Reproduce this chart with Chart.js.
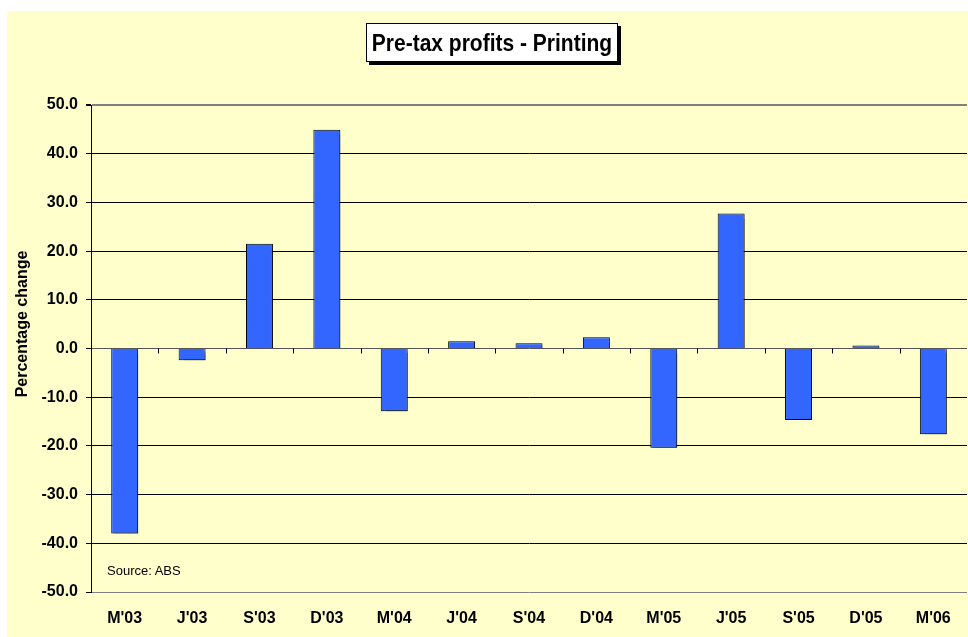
<!DOCTYPE html>
<html lang="en">
<head>
  <meta charset="UTF-8">
  <script src="https://cdn.jsdelivr.net/npm/chart.js"></script>
  <title>Pre-tax profits - Printing</title>
  <style>
    body { margin: 0; background: #fff; font-family: "Liberation Sans", Arial, sans-serif; }
    #wrap { position: absolute; left: 7px; top: 11px; width: 961px; height: 626px; background: #FFFFCC; }
    #title { position: absolute; left: 366px; top: 23px; width: 250px; height: 37px; background: #fff;
      border: 1px solid #000; box-shadow: 3px 3px 0 #000; text-align: center; line-height: 37px;
      font-weight: bold; font-size: 21px; color: #000; }
    #title span { display: inline-block; transform: scaleY(1.15); }
    #source { position: absolute; left: 107px; top: 563px; font-size: 13px; line-height: 16px; color: #000; }
  </style>
</head>
<body>
  <div id="wrap"><canvas id="chart" width="961" height="626"></canvas></div>
  <div id="title"><span>Pre-tax profits - Printing</span></div>
  <div id="source">Source: ABS</div>
  <script>
    // quarters
    const quarters = ["M'03", "J'03", "S'03", "D'03", "M'04", "J'04", "S'04", "D'04", "M'05", "J'05", "S'05", "D'05", "M'06"];
    // percentage change in pre-tax profits
    const profitChange = [-38.0, -2.4, 21.5, 44.9, -12.9, 1.5, 1.1, 2.3, -20.4, 27.7, -14.7, 0.6, -17.6];
    const yMin = -50, yMax = 50, yStep = 10;
    const yTitle = 'Percentage change';

    const font = '"Liberation Sans", Arial, sans-serif';

    // grey drop shadow under the bars
    const barShadow = {
      id: 'barShadow',
      beforeDatasetsDraw(chart) {
        const ctx = chart.ctx;
        ctx.save();
        ctx.shadowColor = 'rgba(0,0,0,0.4)';
        ctx.shadowOffsetX = 2;
        ctx.shadowOffsetY = 2;
        ctx.shadowBlur = 1;
      },
      afterDatasetsDraw(chart) {
        chart.ctx.restore();
      }
    };

    // little tick marks along the zero line + rotated axis title
    const extras = {
      id: 'extras',
      afterDraw(chart) {
        const ctx = chart.ctx;
        const x = chart.scales.x, y = chart.scales.y;
        const y0 = y.getPixelForValue(0);
        ctx.save();
        ctx.strokeStyle = '#000';
        ctx.lineWidth = 1;
        for (let i = 0; i < quarters.length - 1; i++) {
          const px = Math.round((x.getPixelForValue(i) + x.getPixelForValue(i + 1)) / 2) + 0.5;
          ctx.beginPath();
          ctx.moveTo(px, y0);
          ctx.lineTo(px, y0 + 5);
          ctx.stroke();
        }
        ctx.translate(16, 313);
        ctx.rotate(-Math.PI / 2);
        ctx.fillStyle = '#000';
        ctx.font = 'bold 16px ' + font;
        ctx.textAlign = 'center';
        ctx.textBaseline = 'middle';
        ctx.fillText(yTitle, 0, 0);
        ctx.restore();
      }
    };

    const ctx = document.getElementById('chart').getContext('2d');
    new Chart(ctx, {
      type: 'bar',
      data: {
        labels: quarters,
        datasets: [{
          label: 'Pre-tax profits',
          data: profitChange,
          backgroundColor: '#3366FF',
          borderColor: '#000',
          borderWidth: 1,
          barPercentage: 0.4,
          categoryPercentage: 1
        }]
      },
      options: {
        responsive: false,
        animation: false,
        layout: { padding: { top: 94, right: 1, bottom: 0, left: 0 } },
        plugins: { legend: { display: false }, tooltip: { enabled: false } },
        scales: {
          x: {
            grid: { display: false, drawTicks: false },
            border: { display: false },
            ticks: { color: '#000', font: { family: font, size: 16, weight: 'bold' }, padding: 17, maxRotation: 0 },
            afterFit(s) { s.height = 45; }
          },
          y: {
            min: yMin,
            max: yMax,
            grid: {
              color: c => (c.tick.value === yMax || c.tick.value === yMin) ? '#808080' : (c.tick.value === 0 ? '#555' : '#000'),
              lineWidth: c => c.tick.value === yMax ? 2 : 1,
              tickColor: '#000',
              tickLength: 5
            },
            border: { display: true, color: '#000', width: 1 },
            ticks: {
              stepSize: yStep,
              color: '#000',
              padding: 8,
              font: { family: font, size: 16, weight: 'bold' },
              callback: v => v.toFixed(1)
            },
            afterFit(s) { s.width = 84; }
          }
        }
      },
      plugins: [barShadow, extras]
    });
  </script>
</body>
</html>
